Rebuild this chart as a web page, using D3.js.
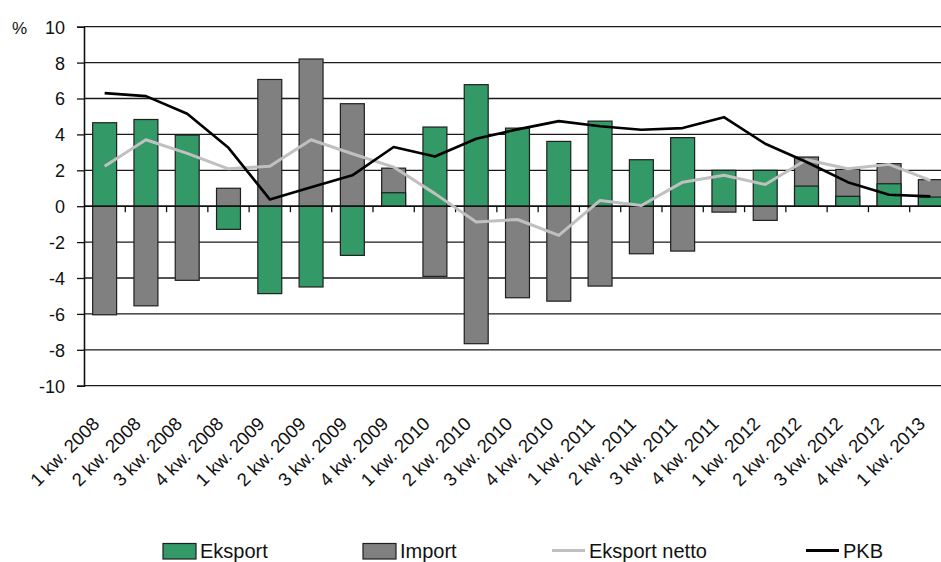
<!DOCTYPE html>
<html>
<head>
<meta charset="utf-8">
<script src="https://cdn.jsdelivr.net/npm/d3@7"></script>
<style>
  html, body { margin: 0; padding: 0; background: #fff; }
  svg { display: block; font-family: "Liberation Sans", Arial, sans-serif; }
</style>
</head>
<body>
<svg id="chart" width="941" height="562"></svg>
<script>
// Quarterly categories
const categories = [
  "1 kw. 2008", "2 kw. 2008", "3 kw. 2008", "4 kw. 2008",
  "1 kw. 2009", "2 kw. 2009", "3 kw. 2009", "4 kw. 2009",
  "1 kw. 2010", "2 kw. 2010", "3 kw. 2010", "4 kw. 2010",
  "1 kw. 2011", "2 kw. 2011", "3 kw. 2011", "4 kw. 2011",
  "1 kw. 2012", "2 kw. 2012", "3 kw. 2012", "4 kw. 2012",
  "1 kw. 2013"
];

// Contributions to growth, %
const eksport = [4.65, 4.83, 3.96, -1.29, -4.87, -4.5, -2.74, 0.75, 4.41, 6.77, 4.35,
                 3.61, 4.74, 2.59, 3.82, 2.0, 2.0, 1.12, 0.55, 1.25, 0.51];
const importVals = [-6.05, -5.55, -4.13, 1.0, 7.06, 8.2, 5.71, 2.12, -3.91, -7.66, -5.1,
                    -5.29, -4.45, -2.65, -2.5, -0.33, -0.79, 2.74, 2.05, 2.37, 1.48];
const eksportNetto = [2.23, 3.7, 2.94, 2.08, 2.23, 3.7, 2.92, 2.18, 0.7, -0.88, -0.74,
                      -1.63, 0.32, 0.04, 1.34, 1.72, 1.21, 2.59, 2.09, 2.33, 1.44];
const pkb = [6.3, 6.13, 5.15, 3.25, 0.38, 1.06, 1.72, 3.3, 2.77, 3.76, 4.28,
             4.74, 4.45, 4.26, 4.35, 4.96, 3.48, 2.46, 1.34, 0.64, 0.55];

const yTicks = [10, 8, 6, 4, 2, 0, -2, -4, -6, -8, -10];

const legendItems = [
  { label: "Eksport", type: "bar", color: "#339966" },
  { label: "Import", type: "bar", color: "#808080" },
  { label: "Eksport netto", type: "line", color: "#c0c0c0" },
  { label: "PKB", type: "line", color: "#000000" }
];

const svg = d3.select("#chart");
const plotLeft = 84, plotRight = 951, plotTop = 26.7, plotBottom = 385.7;

const x = d3.scaleBand()
  .domain(categories)
  .range([plotLeft, plotRight])
  .paddingInner(0.42)
  .paddingOuter(0.21);

const y = d3.scaleLinear().domain([-10, 10]).range([plotBottom, plotTop]);

const cx = c => x(c) + x.bandwidth() / 2;

// Horizontal gridlines
svg.append("g")
  .selectAll("line")
  .data(yTicks)
  .join("line")
  .attr("x1", plotLeft).attr("x2", 941)
  .attr("y1", d => y(d)).attr("y2", d => y(d))
  .attr("stroke", "#1a1a1a")
  .attr("stroke-width", 1.3);

// Y axis (plain hyphen for negatives)
const yAxis = svg.append("g")
  .attr("transform", `translate(${plotLeft},0)`)
  .call(d3.axisLeft(y).tickValues(yTicks).tickSize(7).tickPadding(12).tickFormat(d => String(d)));
yAxis.select(".domain").attr("stroke", "#111").attr("stroke-width", 1.6);
yAxis.selectAll(".tick line").attr("stroke", "#111").attr("stroke-width", 1.3);
yAxis.selectAll(".tick text")
  .attr("font-size", 18)
  .attr("font-family", "Liberation Sans, Arial, sans-serif")
  .attr("fill", "#111")
  .attr("dy", "0.36em");

svg.append("text")
  .attr("x", 12).attr("y", 34)
  .attr("font-size", 17)
  .attr("fill", "#111")
  .text("%");

// Bars drawn from zero: import first, export in front
function drawBars(values, color) {
  svg.append("g")
    .selectAll("rect")
    .data(values)
    .join("rect")
    .attr("x", (d, i) => x(categories[i]))
    .attr("width", x.bandwidth())
    .attr("y", d => Math.min(y(0), y(d)))
    .attr("height", d => Math.abs(y(d) - y(0)))
    .attr("fill", color)
    .attr("stroke", "#1f1f1f")
    .attr("stroke-width", 1.2);
}
drawBars(importVals, "#808080");
drawBars(eksport, "#339966");

// Category axis on the zero line with ticks between quarters
const boundaries = categories.slice(1).map(c => x(c) - x.step() * x.paddingInner() / 2);
svg.append("g")
  .selectAll("line")
  .data(boundaries)
  .join("line")
  .attr("x1", d => d).attr("x2", d => d)
  .attr("y1", y(0)).attr("y2", y(0) + 6)
  .attr("stroke", "#111")
  .attr("stroke-width", 1.3);
svg.append("line")
  .attr("x1", plotLeft).attr("x2", 941)
  .attr("y1", y(0)).attr("y2", y(0))
  .attr("stroke", "#111")
  .attr("stroke-width", 1.4);

// Lines
const line = d3.line()
  .x((d, i) => cx(categories[i]))
  .y(d => y(d));

svg.append("path")
  .datum(eksportNetto)
  .attr("d", line)
  .attr("fill", "none")
  .attr("stroke", "#c0c0c0")
  .attr("stroke-width", 3)
  .attr("stroke-linejoin", "round");

svg.append("path")
  .datum(pkb)
  .attr("d", line)
  .attr("fill", "none")
  .attr("stroke", "#000")
  .attr("stroke-width", 2.6)
  .attr("stroke-linejoin", "round");

// Rotated category labels below the plot
svg.append("g")
  .selectAll("text")
  .data(categories)
  .join("text")
  .attr("transform", d => `translate(${cx(d) - 4},425) rotate(-45)`)
  .attr("text-anchor", "end")
  .attr("font-size", 18.5)
  .attr("fill", "#111")
  .text(d => d);

// Legend
const legendX = [163, 363, 552, 806];
const lg = svg.append("g");
legendItems.forEach((item, i) => {
  const gx = legendX[i];
  if (item.type === "bar") {
    lg.append("rect")
      .attr("x", gx).attr("y", 543.5)
      .attr("width", 33).attr("height", 15.5)
      .attr("fill", item.color)
      .attr("stroke", "#1f1f1f")
      .attr("stroke-width", 1.2);
  } else {
    lg.append("line")
      .attr("x1", gx).attr("x2", gx + 33)
      .attr("y1", 550.5).attr("y2", 550.5)
      .attr("stroke", item.color)
      .attr("stroke-width", 3);
  }
  lg.append("text")
    .attr("x", gx + 37)
    .attr("y", 558)
    .attr("font-size", 20)
    .attr("fill", "#111")
    .text(item.label);
});
</script>
</body>
</html>
